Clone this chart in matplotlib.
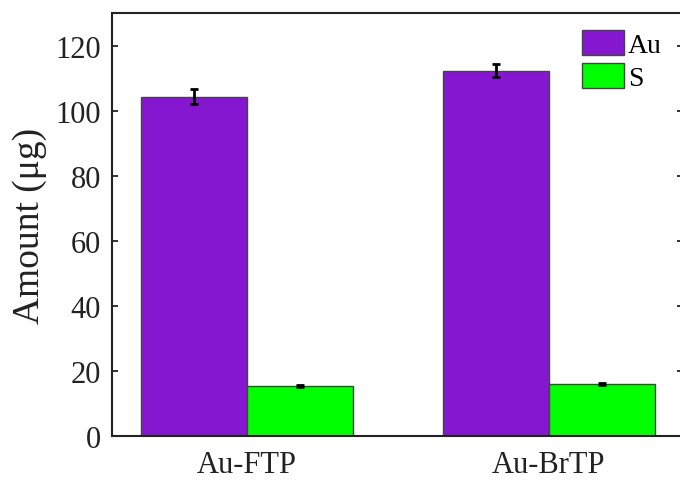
import matplotlib.pyplot as plt
import numpy as np

plt.rcParams['font.family'] = ['Liberation Serif', 'DejaVu Serif']

samples = ['Au-FTP', 'Au-BrTP']
au_amount = [104.3, 112.3]
au_err = [2.4, 1.9]
s_amount = [15.3, 16.1]
s_err = [0.3, 0.3]

x = np.arange(1, len(samples) + 1)
w = 0.35

fig = plt.figure(figsize=(6.8, 4.81), dpi=100)
ax = fig.add_axes([0.1647, 0.0915, 0.8397, 0.8794])

ax.bar(x - w / 2, au_amount, w, color='#8517d1', edgecolor='#444444', linewidth=1, label='Au')
ax.bar(x + w / 2, s_amount, w, color='#00ff00', edgecolor='#444444', linewidth=1, label='S')
ax.errorbar(x - w / 2, au_amount, yerr=au_err, fmt='none', ecolor='black', elinewidth=2, capsize=3, capthick=2)
ax.errorbar(x + w / 2, s_amount, yerr=s_err, fmt='none', ecolor='black', elinewidth=2, capsize=3, capthick=2)

ax.set_xlim(0.553, 2.444)
ax.set_ylim(0, 130)
ax.set_yticks(np.arange(0, 121, 20))
ax.set_xticks(x)
ax.set_xticklabels(samples)
ax.tick_params(axis='both', labelsize=22, direction='in', length=4.5, width=1.3, colors='#222222')
ax.tick_params(axis='x', length=0, pad=10)
ax.tick_params(axis='y', right=True, pad=8)
for s in ax.spines.values():
    s.set_linewidth(1.5)
    s.set_color('#222222')

ax.set_ylabel('Amount (μg)', fontsize=27, labelpad=6, color='#222222')

ax.legend(loc='upper left', bbox_to_anchor=(0.8235, 0.96), frameon=False, fontsize=20,
          handlelength=1.5, handleheight=1.0, handletextpad=0.15, labelspacing=0.2,
          borderaxespad=0, borderpad=0)

fig.savefig('out.png', dpi=100)
